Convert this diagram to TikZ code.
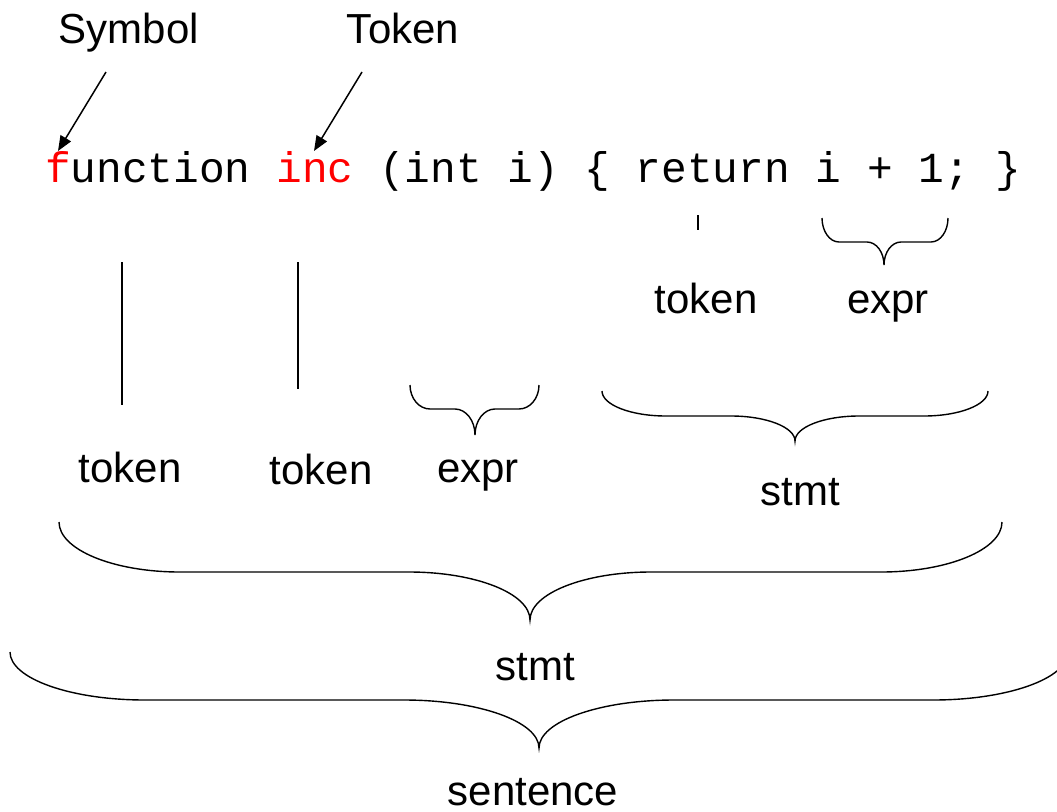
\documentclass[tikz,border=0pt]{standalone}
\usepackage{fontspec}
\setmainfont{Liberation Sans}
\newfontfamily\codefont{Liberation Mono}
\usetikzlibrary{arrows.meta}
\newcommand\labfont{\fontsize{42}{50}\selectfont}
\newcommand\cdfont{\codefont\fontsize{42.8}{50}\selectfont}
% brace: L R T H B M r
\newcommand\mybrace[7]{%
  \draw[bracestyle] (#1,#3) .. controls (#1,{#3+0.552*(#4-#3)}) and ({#1+0.448*#7},#4) .. ({#1+#7},#4)
    -- ({#6-#7},#4) .. controls ({#6-0.448*#7},#4) and (#6,{#5-0.552*(#5-#4)}) .. (#6,#5)
    .. controls (#6,{#5-0.552*(#5-#4)}) and ({#6+0.448*#7},#4) .. ({#6+#7},#4)
    -- ({#2-#7},#4) .. controls ({#2-0.448*#7},#4) and (#2,{#3+0.552*(#4-#3)}) .. (#2,#3);}
\begin{document}
\begin{tikzpicture}[x=1pt,y=-1pt,
  lab/.style={font=\labfont, inner sep=0pt, anchor=base},
  bracestyle/.style={line width=1.4pt, black},
  tickline/.style={line width=1.5pt, black},
  pointer/.style={line width=1.5pt, -{Triangle[length=15pt,width=12pt]}}]
\useasboundingbox (0,0) rectangle (1057,811);
% code line
\node[inner sep=0pt, anchor=base west, font=\cdfont] (code) at (45,182)
  {\textcolor{red}{f}unction \textcolor{red}{inc} (int i) \{ return i + 1; \}};
% top labels and arrows
\node[lab] (symbol) at (129,43) {Symbol};
\node[lab] (tokenT) at (403,43) {Token};
\coordinate (sA) at (106,72);
\coordinate (sB) at (58,151);
\coordinate (tA) at (362,72);
\coordinate (tB) at (314,151);
\draw[pointer] (sA) -- (sB);
\draw[pointer] (tA) -- (tB);
% vertical lines
\coordinate (v1a) at (122,262); \coordinate (v1b) at (122,405);
\coordinate (v2a) at (298,262); \coordinate (v2b) at (298,389);
\coordinate (v3a) at (698,215); \coordinate (v3b) at (698,230);
\draw[tickline] (v1a) -- (v1b);
\draw[tickline] (v2a) -- (v2b);
\draw[tickline] (v3a) -- (v3b);
% braces
\mybrace{822}{948}{218}{242}{265}{884}{17}
\mybrace{410}{539}{385}{409}{435}{475}{20}
\mybrace{602}{988}{391}{416}{441}{795}{64}
\mybrace{59}{1002}{522}{572}{620}{530}{121}
\mybrace{10}{1068}{652}{700}{748}{539}{135}
% labels
\node[lab] (tokR) at (706,313) {token};
\node[lab] (exprR) at (888,313) {expr};
\node[lab] (tok1) at (130,482) {token};
\node[lab] (tok2) at (321,484) {token};
\node[lab] (expr1) at (478,482) {expr};
\node[lab] (stmt1) at (800,505) {stmt};
\node[lab] (stmt2) at (535,680) {stmt};
\node[lab] (sent) at (533,805) {sentence};
\end{tikzpicture}
\end{document}
